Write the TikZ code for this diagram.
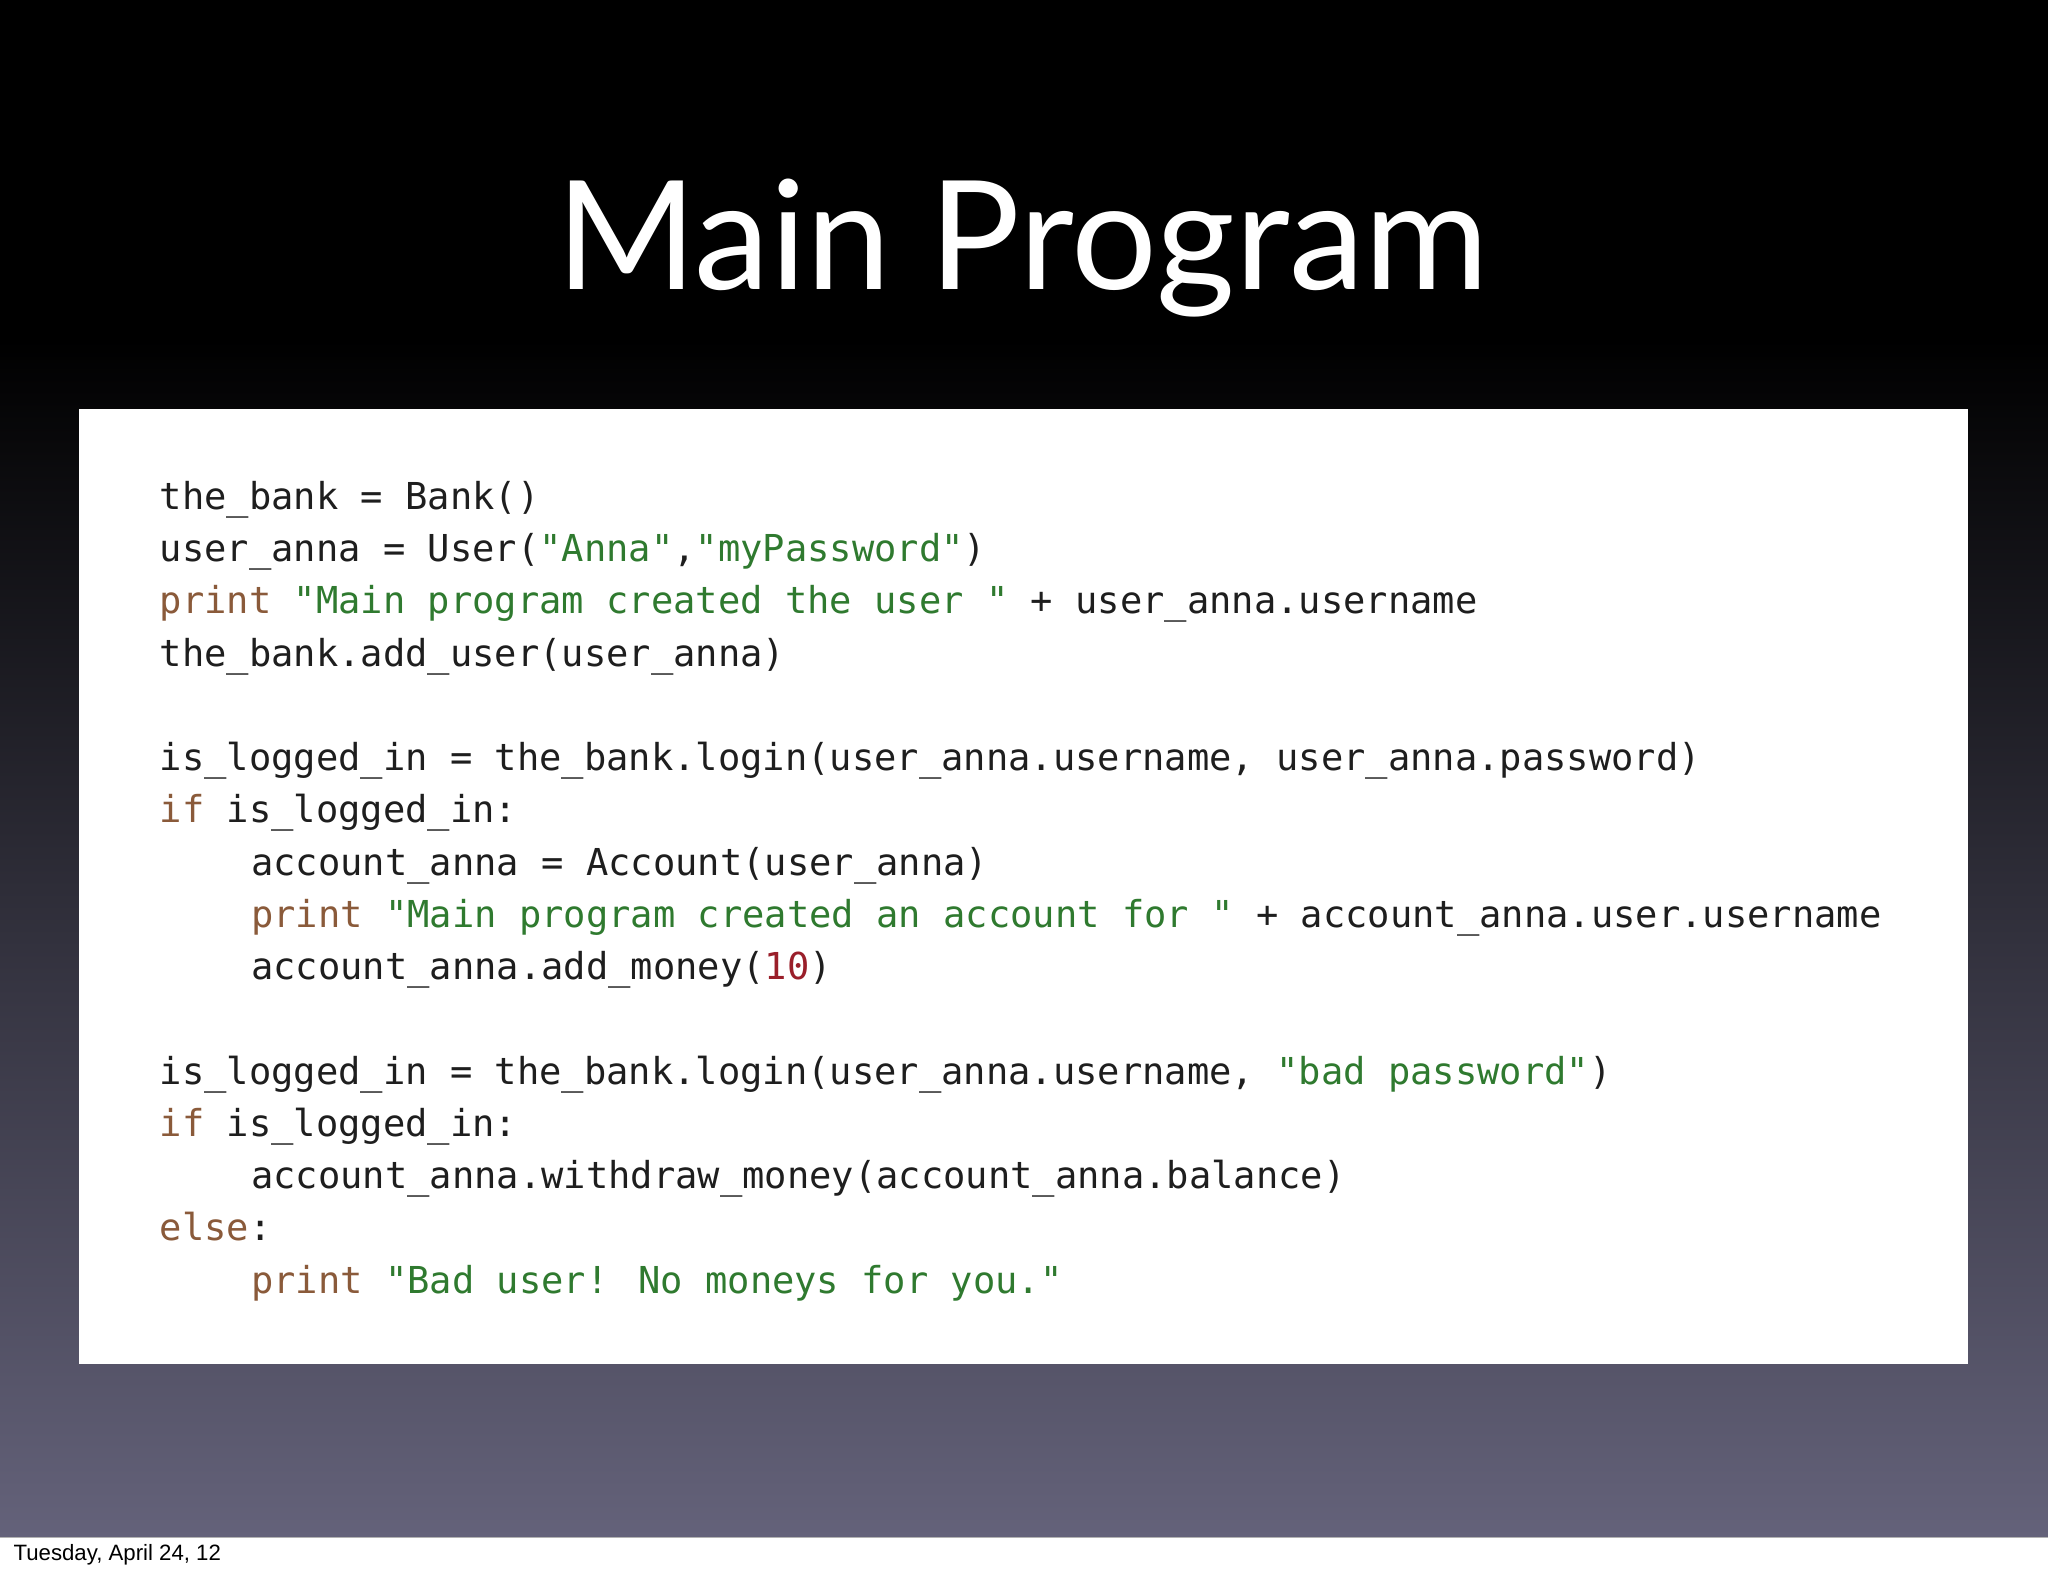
\documentclass[tikz,border=0pt]{standalone}
\usepackage{fontspec}
\setmainfont{Lato}
\newfontfamily\code{DejaVu Sans Mono}
\newfontfamily\foot{Liberation Sans}
\definecolor{kw}{HTML}{8A5A3A}
\definecolor{st}{HTML}{2F7A2F}
\definecolor{nm}{HTML}{9A1F2A}
\definecolor{tx}{HTML}{1E1E1E}
\definecolor{bgb}{HTML}{64627A}
\begin{document}
\begin{tikzpicture}[x=0.5pt,y=-0.5pt,
  codeline/.style={anchor=base west,inner sep=0pt,font=\code\fontsize{14.2pt}{16pt}\selectfont,text=tx}]
\useasboundingbox (0,0) rectangle (1568,1206);
\fill[black] (0,0) rectangle (1568,260);
\shade[top color=black,bottom color=bgb] (0,259) rectangle (1568,1177);
\fill[white] (0,1177) rectangle (1568,1206);
\draw[gray!60,line width=0.5pt] (0,1177) -- (1568,1177);
\node[font=\fontsize{58pt}{64pt}\selectfont,text=white,anchor=base] (title) at (783,222) {Main Program};
\node[fill=white,inner sep=0pt,minimum width=723pt,minimum height=365.5pt,anchor=north west] (box) at (60,313) {};
\node[codeline] (l1) at (122,390) {the\_bank = Bank()};
\node[codeline] (l2) at (122,430) {user\_anna = User(\textcolor{st}{"Anna"},\textcolor{st}{"myPassword"})};
\node[codeline] (l3) at (122,470) {\textcolor{kw}{print} \textcolor{st}{"Main program created the user "} + user\_anna.username};
\node[codeline] (l4) at (122,510) {the\_bank.add\_user(user\_anna)};
\node[codeline] (l5) at (122,590) {is\_logged\_in = the\_bank.login(user\_anna.username, user\_anna.password)};
\node[codeline] (l6) at (122,630) {\textcolor{kw}{if} is\_logged\_in:};
\node[codeline] (l7) at (192,670) {account\_anna = Account(user\_anna)};
\node[codeline] (l8) at (192,710) {\textcolor{kw}{print} \textcolor{st}{"Main program created an account for "} + account\_anna.user.username};
\node[codeline] (l9) at (192,750) {account\_anna.add\_money(\textcolor{nm}{10})};
\node[codeline] (l10) at (122,830) {is\_logged\_in = the\_bank.login(user\_anna.username, \textcolor{st}{"bad password"})};
\node[codeline] (l11) at (122,870) {\textcolor{kw}{if} is\_logged\_in:};
\node[codeline] (l12) at (192,910) {account\_anna.withdraw\_money(account\_anna.balance)};
\node[codeline] (l13) at (122,950) {\textcolor{kw}{else}:};
\node[codeline] (l14) at (192,990) {\textcolor{kw}{print} \textcolor{st}{"Bad user! No moneys for you."}};
\node[anchor=west,inner sep=0pt,font=\foot\fontsize{8.5pt}{10pt}\selectfont] (date) at (10,1190) {Tuesday, April 24, 12};
\end{tikzpicture}
\end{document}
